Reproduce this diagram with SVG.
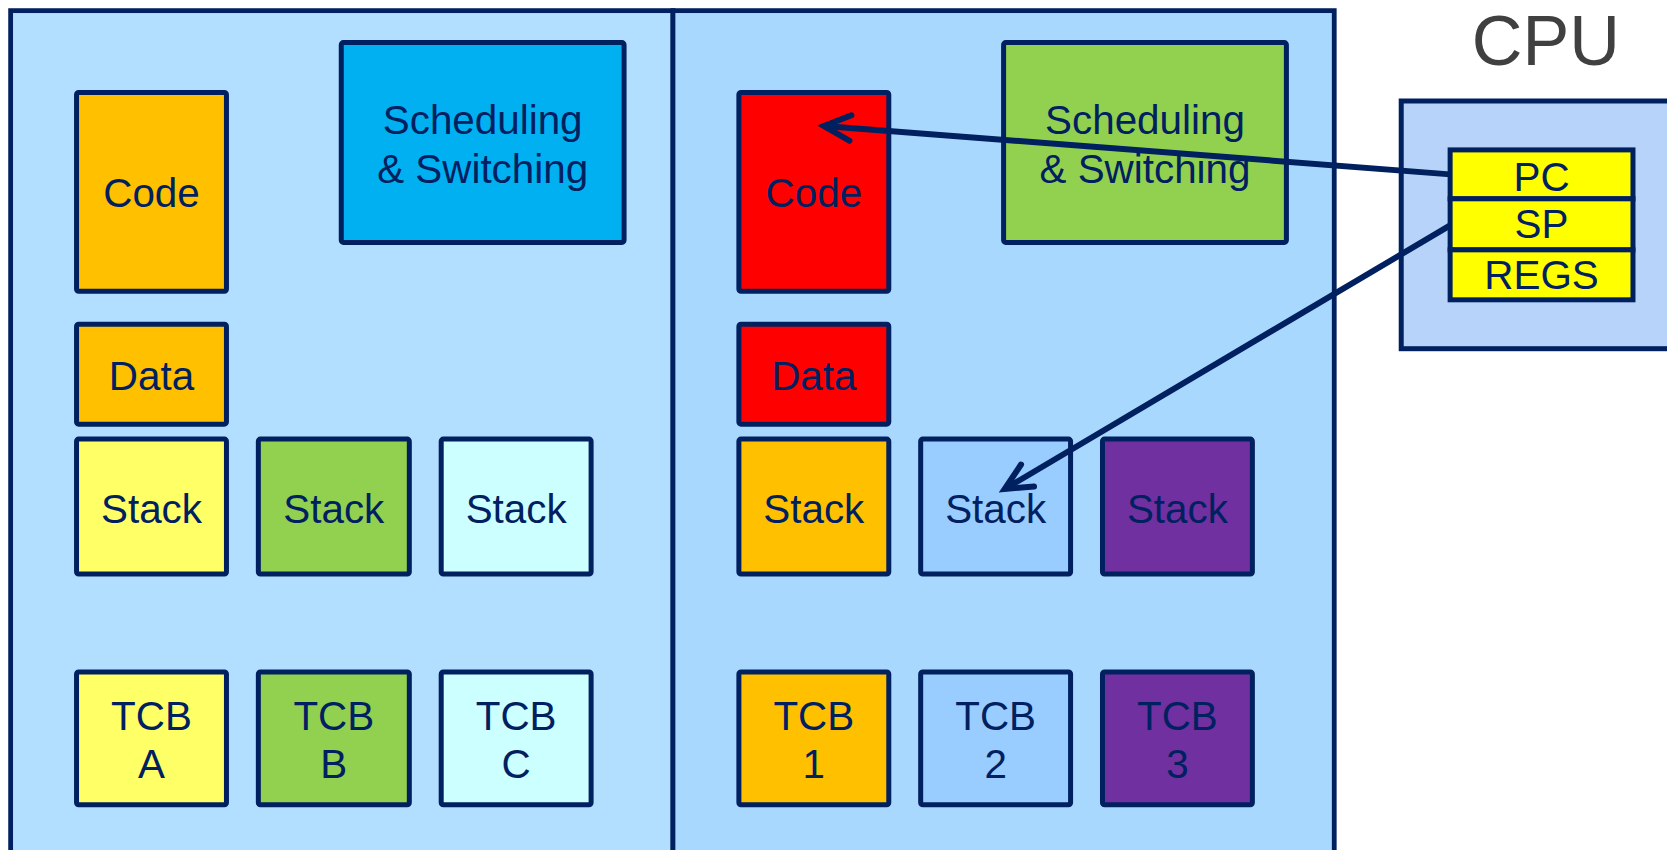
<svg xmlns="http://www.w3.org/2000/svg" width="1667" height="850" viewBox="0 0 1667 850">
<defs>
<style>
.box{stroke:#002060;stroke-width:4.7;}
.panel{stroke:#002060;stroke-width:4.5;}
.t{font-family:"Liberation Sans",Arial,sans-serif;font-size:38px;fill:#002060;text-anchor:middle;}
.r{font-family:"Liberation Sans",Arial,sans-serif;font-size:38px;fill:#002060;text-anchor:middle;}
.cpu{font-family:"Liberation Sans",Arial,sans-serif;font-size:66px;fill:#404040;text-anchor:middle;}
.conn{stroke:#002060;stroke-width:5.6;fill:none;}
</style>
<marker id="arr" markerUnits="userSpaceOnUse" viewBox="0 0 34 30" markerWidth="34" markerHeight="30" refX="29" refY="15" orient="auto" style="overflow:visible">
<path d="M4,3 L29,15 L4,27" fill="none" stroke="#002060" stroke-width="5.6" stroke-linecap="round" stroke-linejoin="miter"/>
</marker>
</defs>
<rect width="1667" height="850" fill="#FFFFFF"/>
<g transform="scale(1.063138)">
<g id="panel-left"><rect class="panel" x="10" y="10" width="623" height="820" fill="#B2DEFF"/></g>
<g id="panel-right"><rect class="panel" x="633" y="10" width="622" height="820" fill="#A9D8FF"/></g>

<g id="l-code"><rect class="box" x="72" y="87" width="141" height="187" rx="2" fill="#FFC000"/><text class="t" x="142.5" y="194.5">Code</text></g>
<g id="l-sched"><rect class="box" x="321" y="40" width="266" height="188" rx="2" fill="#00B0F0"/><text class="t" x="454" y="126.5">Scheduling</text><text class="t" x="454" y="172.5">&amp; Switching</text></g>
<g id="l-data"><rect class="box" x="72" y="305" width="141" height="94" rx="2" fill="#FFC000"/><text class="t" x="142.5" y="366.5">Data</text></g>
<g id="l-stackA"><rect class="box" x="72" y="413" width="141" height="127" rx="2" fill="#FFFF66"/><text class="t" x="142.5" y="491.5">Stack</text></g>
<g id="l-stackB"><rect class="box" x="243" y="413" width="142" height="127" rx="2" fill="#92D050"/><text class="t" x="314" y="491.5">Stack</text></g>
<g id="l-stackC"><rect class="box" x="415" y="413" width="141" height="127" rx="2" fill="#CCFFFF"/><text class="t" x="485.5" y="491.5">Stack</text></g>
<g id="l-tcbA"><rect class="box" x="72" y="632" width="141" height="125" rx="2" fill="#FFFF66"/><text class="t" x="142.5" y="686.5">TCB</text><text class="t" x="142.5" y="731.5">A</text></g>
<g id="l-tcbB"><rect class="box" x="243" y="632" width="142" height="125" rx="2" fill="#92D050"/><text class="t" x="314" y="686.5">TCB</text><text class="t" x="314" y="731.5">B</text></g>
<g id="l-tcbC"><rect class="box" x="415" y="632" width="141" height="125" rx="2" fill="#CCFFFF"/><text class="t" x="485.5" y="686.5">TCB</text><text class="t" x="485.5" y="731.5">C</text></g>

<g id="r-code"><rect class="box" x="695" y="87" width="141" height="187" rx="2" fill="#FF0000"/><text class="t" x="765.5" y="194.5">Code</text></g>
<g id="r-sched"><rect class="box" x="944" y="40" width="266" height="188" rx="2" fill="#92D050"/><text class="t" x="1077" y="126.5">Scheduling</text><text class="t" x="1077" y="172.5">&amp; Switching</text></g>
<g id="r-data"><rect class="box" x="695" y="305" width="141" height="94" rx="2" fill="#FF0000"/><text class="t" x="765.5" y="366.5">Data</text></g>
<g id="r-stack1"><rect class="box" x="695" y="413" width="141" height="127" rx="2" fill="#FFC000"/><text class="t" x="765.5" y="491.5">Stack</text></g>
<g id="r-stack2"><rect class="box" x="866" y="413" width="141" height="127" rx="2" fill="#99CCFF"/><text class="t" x="936.5" y="491.5">Stack</text></g>
<g id="r-stack3"><rect class="box" x="1037" y="413" width="141" height="127" rx="2" fill="#7030A0"/><text class="t" x="1107.5" y="491.5">Stack</text></g>
<g id="r-tcb1"><rect class="box" x="695" y="632" width="141" height="125" rx="2" fill="#FFC000"/><text class="t" x="765.5" y="686.5">TCB</text><text class="t" x="765.5" y="731.5">1</text></g>
<g id="r-tcb2"><rect class="box" x="866" y="632" width="141" height="125" rx="2" fill="#99CCFF"/><text class="t" x="936.5" y="686.5">TCB</text><text class="t" x="936.5" y="731.5">2</text></g>
<g id="r-tcb3"><rect class="box" x="1037" y="632" width="141" height="125" rx="2" fill="#7030A0"/><text class="t" x="1107.5" y="686.5">TCB</text><text class="t" x="1107.5" y="731.5">3</text></g>

<g id="cpu">
<text class="cpu" x="1454" y="61">CPU</text>
<rect class="box" x="1318" y="95" width="270" height="233" fill="#B8D3F9"/>
<g id="reg-pc"><rect class="box" x="1364" y="141" width="172" height="46" fill="#FFFF00"/><text class="r" x="1450" y="179.5">PC</text></g>
<g id="reg-sp"><rect class="box" x="1364" y="187" width="172" height="48" fill="#FFFF00"/><text class="r" x="1450" y="224">SP</text></g>
<g id="reg-regs"><rect class="box" x="1364" y="235" width="172" height="47" fill="#FFFF00"/><text class="r" x="1450" y="272">REGS</text></g>
</g>

<g id="connectors">
<line class="conn" x1="1364" y1="164" x2="775" y2="118.5" marker-end="url(#arr)"/>
<line class="conn" x1="1364" y1="212" x2="945" y2="460" marker-end="url(#arr)"/>
</g>
</g>
</svg>
